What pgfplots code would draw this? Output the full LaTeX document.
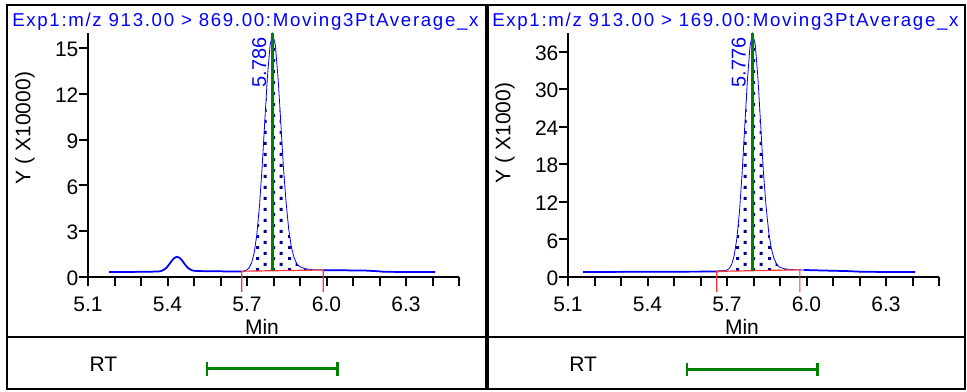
\documentclass[border=0pt]{standalone}
\usepackage{fontspec}
\setmainfont{Liberation Sans}
\newfontfamily\titlefam{Liberation Sans}[LetterSpace=9]
\usepackage{pgfplots}
\pgfplotsset{compat=1.18}
\usepackage{pgfplotstable}
\usetikzlibrary{patterns.meta}
\definecolor{cblue}{RGB}{0,0,255}
\definecolor{cnavy}{RGB}{0,0,140}
\definecolor{cgreen}{RGB}{0,128,0}
\definecolor{cred}{RGB}{255,50,50}
\newcommand\bigf{\fontsize{15.75pt}{18pt}\selectfont}
\newcommand\titf{\titlefam\fontsize{14pt}{16pt}\selectfont}
\newcommand\lblf{\fontsize{15pt}{17pt}\selectfont}

\tikzdeclarepattern{
  name=sparsedots,
  type=uncolored,
  bounding box={(0,0) and (12pt,8.25pt)},
  tile size={(12pt,8.25pt)},
  code={
    \pgfpathrectangle{\pgfpoint{0pt}{0pt}}{\pgfpoint{2.4pt}{2.4pt}}
    \pgfpathrectangle{\pgfpoint{6pt}{4.125pt}}{\pgfpoint{2.4pt}{2.4pt}}
    \pgfusepath{fill}
  }
}

\pgfplotstableread{
x y
5.18 0.33
5.25 0.33
5.30 0.34
5.34 0.35
5.366 0.36
5.376 0.39
5.386 0.47
5.396 0.61
5.406 0.82
5.416 1.06
5.426 1.25
5.436 1.33
5.446 1.25
5.456 1.06
5.466 0.82
5.476 0.62
5.486 0.49
5.496 0.42
5.51 0.39
5.55 0.38
5.60 0.37
5.65 0.36
5.68 0.36
5.697 0.44
5.707 0.58
5.717 0.91
5.727 1.57
5.737 2.76
5.747 4.63
5.757 7.18
5.767 10.18
5.777 13.1
5.787 15.2
5.797 15.95
5.807 15.2
5.817 13.1
5.827 10.3
5.837 7.3
5.847 5.0
5.857 3.2
5.867 2.0
5.877 1.3
5.887 0.9
5.897 0.7
5.917 0.55
5.947 0.48
5.99 0.45
6.05 0.44
6.10 0.43
6.15 0.42
6.19 0.38
6.22 0.34
6.30 0.33
6.41 0.33
}\leftdata

\pgfplotstableread{
x y
5.68 0.38
5.697 0.44
5.707 0.58
5.717 0.91
5.727 1.57
5.737 2.76
5.747 4.63
5.757 7.18
5.767 10.18
5.777 13.1
5.787 15.2
5.797 15.95
5.807 15.2
5.817 13.1
5.827 10.3
5.837 7.3
5.847 5.0
5.857 3.2
5.867 2.0
5.877 1.3
5.887 0.9
5.897 0.7
5.917 0.55
5.947 0.48
5.988 0.46
5.68 0.38
}\leftfill

\pgfplotstableread{
x y
5.157 0.80
5.30 0.82
5.45 0.85
5.60 0.86
5.66 0.88
5.687 0.95
5.697 1.05
5.707 1.3
5.717 1.95
5.727 3.4
5.737 6.1
5.747 10.4
5.757 16.6
5.767 24.1
5.777 31.5
5.787 37.0
5.797 38.9
5.807 37.0
5.817 31.6
5.827 24.4
5.837 17.0
5.847 11.5
5.857 7.3
5.867 4.6
5.877 3.0
5.887 2.1
5.897 1.6
5.917 1.3
5.947 1.18
5.99 1.12
6.05 1.05
6.15 0.95
6.20 0.85
6.30 0.80
6.41 0.80
}\rightdata

\pgfplotstableread{
x y
5.661 0.90
5.687 0.95
5.697 1.05
5.707 1.3
5.717 1.95
5.727 3.4
5.737 6.1
5.747 10.4
5.757 16.6
5.767 24.1
5.777 31.5
5.787 37.0
5.797 38.9
5.807 37.0
5.817 31.6
5.827 24.4
5.837 17.0
5.847 11.5
5.857 7.3
5.867 4.6
5.877 3.0
5.887 2.1
5.897 1.6
5.917 1.3
5.947 1.18
5.975 1.15
5.661 0.90
}\rightfill

\pgfplotsset{chrom/.style={
  scale only axis, width=278.25pt, height=183pt,
  anchor=south west,
  xmin=5.1, xmax=6.5, ymin=0,
  axis x line=bottom, axis y line=left,
  axis line style={line width=1.5pt, -},
  xtick={5.1,5.4,5.7,6.0,6.3}, xticklabels={5.1,5.4,5.7,6.0,6.3},
  minor xtick={5.2,5.3,5.5,5.6,5.8,5.9,6.1,6.2,6.4,6.5},
  tick align=outside, major tick length=7pt, minor tick length=7pt,
  tick style={black, line width=1.5pt},
  tick label style={font=\bigf},
  xticklabel style={yshift=-4.5pt},
  yticklabel style={inner sep=0pt, yshift=-1pt},
  clip=false,
  /pgf/number format/assume math mode=true,
}}

\begin{document}
\begin{tikzpicture}
\useasboundingbox (0,0) rectangle (725.25pt,294pt);

% ---------- left panel ----------
\begin{axis}[chrom, at={(66pt,86.25pt)}, ymax=16, ytick={0,3,6,9,12,15}]
\addplot[draw=none, pattern=sparsedots, pattern color=cnavy] table {\leftfill};
\addplot[cblue, line width=0.6pt] table {\leftdata};
\addplot[cblue, line width=1.3pt, restrict x to domain=5.1:5.69] table {\leftdata};
\addplot[cblue, line width=1.3pt, restrict x to domain=5.95:6.5] table {\leftdata};
\addplot[cred, line width=0.9pt] coordinates {(5.68,-0.98) (5.68,0.38) (5.988,0.46) (5.988,-0.98)};
\addplot[cgreen, line width=2.4pt] coordinates {(5.797,0.4) (5.797,16)};
% RT window
\addplot[cgreen, line width=2.2pt] coordinates {(5.549,-6.03) (6.043,-6.03)};
\addplot[cgreen, line width=2.2pt] coordinates {(5.549,-5.60) (5.549,-6.46)};
\addplot[cgreen, line width=2.2pt] coordinates {(6.043,-5.60) (6.043,-6.46)};
\end{axis}

% ---------- right panel ----------
\begin{axis}[chrom, at={(426pt,86.25pt)}, ymax=39, ytick={0,6,12,18,24,30,36}]
\addplot[draw=none, pattern=sparsedots, pattern color=cnavy] table {\rightfill};
\addplot[cblue, line width=0.6pt] table {\rightdata};
\addplot[cblue, line width=1.3pt, restrict x to domain=5.1:5.69] table {\rightdata};
\addplot[cblue, line width=1.3pt, restrict x to domain=5.95:6.5] table {\rightdata};
\addplot[cred, line width=0.9pt] coordinates {(5.661,-2.4) (5.661,0.9) (5.975,1.15) (5.975,-2.4)};
\addplot[cgreen, line width=2.4pt] coordinates {(5.797,1.0) (5.797,39)};
% RT window
\addplot[cgreen, line width=2.2pt] coordinates {(5.549,-14.72) (6.043,-14.72)};
\addplot[cgreen, line width=2.2pt] coordinates {(5.549,-13.68) (5.549,-15.76)};
\addplot[cgreen, line width=2.2pt] coordinates {(6.043,-13.68) (6.043,-15.76)};
\end{axis}

% ---------- frames ----------
\draw[line width=1.5pt] (5.25pt,2.25pt) rectangle (364.5pt,290.25pt);
\draw[line width=1.5pt] (366pt,2.25pt) rectangle (723.75pt,290.25pt);
\draw[line width=1.5pt] (5.25pt,41.25pt) -- (364.5pt,41.25pt);
\draw[line width=1.5pt] (366pt,41.25pt) -- (723.75pt,41.25pt);

% ---------- texts ----------
\node[anchor=base west, text=cblue, font=\titf, inner sep=0pt] at (9pt,274pt) {Exp1:m/z 913.00 > 869.00:Moving3PtAverage\_x};
\node[anchor=base west, text=cblue, font=\titf, inner sep=0pt] at (369pt,274pt) {Exp1:m/z 913.00 > 169.00:Moving3PtAverage\_x};
\node[rotate=90, font=\bigf] at (18.75pt,198pt) {Y ( X10000)};
\node[rotate=90, font=\bigf] at (378.75pt,194.25pt) {Y ( X1000)};
\node[font=\bigf] at (196.5pt,48.75pt) {Min};
\node[font=\bigf] at (556.5pt,48.75pt) {Min};
\node[font=\bigf] at (77.6pt,20.6pt) {RT};
\node[font=\bigf] at (437.3pt,20.6pt) {RT};
\node[rotate=90, anchor=south east, text=cblue, font=\lblf, inner sep=0pt] at (200pt,266.25pt) {5.786};
\node[rotate=90, anchor=south east, text=cblue, font=\lblf, inner sep=0pt] at (559.5pt,266.25pt) {5.776};
\end{tikzpicture}
\end{document}
